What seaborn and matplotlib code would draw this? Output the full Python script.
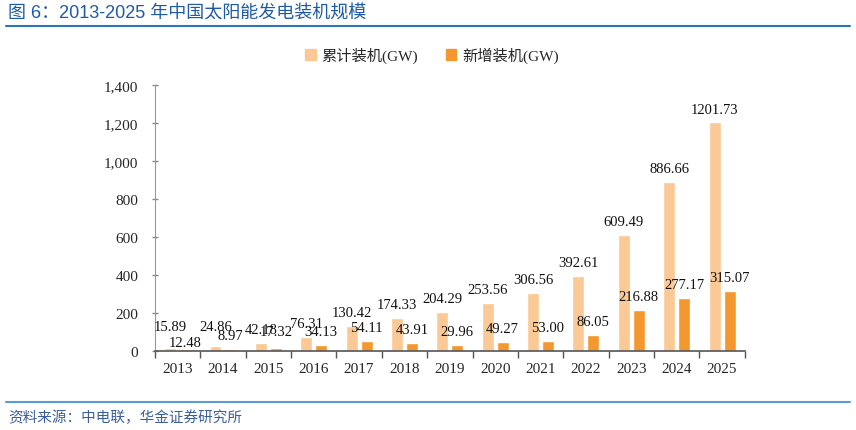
import pandas as pd
import matplotlib.pyplot as plt
import seaborn as sns
from matplotlib.ticker import FuncFormatter

sns.set_style("white")
plt.rcParams["font.family"] = ["Liberation Serif", "Noto Sans CJK SC", "DejaVu Sans"]

years = ["2013", "2014", "2015", "2016", "2017", "2018", "2019",
         "2020", "2021", "2022", "2023", "2024", "2025"]
cumulative = [15.89, 24.86, 42.18, 76.31, 130.42, 174.33, 204.29,
              253.56, 306.56, 392.61, 609.49, 886.66, 1201.73]
added = [12.48, 8.97, 17.32, 34.13, 54.11, 43.91, 29.96,
         49.27, 53.00, 86.05, 216.88, 277.17, 315.07]
series_names = ["累计装机(GW)", "新增装机(GW)"]
colors = ["#FAC995", "#F5972F"]

df = pd.DataFrame({
    "year": years * 2,
    "value": cumulative + added,
    "series": [series_names[0]] * len(years) + [series_names[1]] * len(years),
})

fig = plt.figure(figsize=(8.56, 4.31), dpi=100)
ax = fig.add_axes([0.181, 0.183, 0.689, 0.618])

sns.barplot(data=df, x="year", y="value", hue="series", palette=colors,
            width=0.66, gap=0.2, ax=ax, legend=False, saturation=1)

# label padding in points; the small early bars get nudged apart like the original
pads = [
    [11, 10, 5, 5, 5, 5, 5, 5, 5, 5, 5, 5, 5],
    [0, 5, 7, 5, 5, 5, 5, 5, 5, 5, 5, 5, 5],
]
for cont, pad_row in zip(ax.containers, pads):
    for bar, pad in zip(cont, pad_row):
        h = bar.get_height()
        ax.annotate(f"{h:.2f}", (bar.get_x() + bar.get_width() / 2, h),
                    xytext=(0, pad), textcoords="offset points",
                    ha="center", va="bottom", fontsize=10.5, color="#111111")

ax.set_ylim(0, 1400)
ax.set_yticks(range(0, 1401, 200))
ax.yaxis.set_major_formatter(FuncFormatter(lambda v, p: f"{int(v):,}"))
ax.set_xlim(-0.5, len(years) - 0.5)
ax.set_xlabel("")
ax.set_ylabel("")

# category boundary ticks on the x axis
ax.set_xticks(range(len(years)))
ax.set_xticks([i - 0.5 for i in range(len(years) + 1)], minor=True)
ax.tick_params(axis="x", which="major", length=0, labelsize=11, pad=8)
ax.tick_params(axis="x", which="minor", length=5, width=1, color="#555555", direction="out", bottom=True)
ax.tick_params(axis="y", length=4, width=1, color="#888888", direction="inout", labelsize=11, pad=10, left=True)

for s in ["top", "right"]:
    ax.spines[s].set_visible(False)
ax.spines["left"].set_color("#999999")
ax.spines["bottom"].set_color("#555555")
ax.spines["bottom"].set_linewidth(1.2)

handles = [plt.Rectangle((0, 0), 1, 1, color=c) for c in colors]
fig.legend(handles, series_names, loc="center", bbox_to_anchor=(432 / 856, 1 - 56 / 431),
           ncol=2, frameon=False, fontsize=11, handlelength=0.7, handleheight=0.7,
           handletextpad=0.4, columnspacing=1.8)

# title, rules and source note
fig.text(8 / 856, 1 - 14 / 431, "图 6：2013-2025 年中国太阳能发电装机规模",
         family=["Liberation Sans", "Noto Sans CJK SC"], fontsize=13,
         color="#1F5AA6", va="center", ha="left")
fig.add_artist(plt.Line2D([6 / 856, 850 / 856], [1 - 27 / 431, 1 - 27 / 431],
                          color="#2E75B6", lw=1.5))
fig.add_artist(plt.Line2D([6 / 856, 850 / 856], [1 - 403 / 431, 1 - 403 / 431],
                          color="#5B9BD5", lw=1.5))
fig.text(8 / 856, 1 - 418 / 431, "资料来源：中电联，华金证券研究所",
         family=["Noto Sans CJK SC"], fontsize=10.5, color="#3A5F9A",
         va="center", ha="left")

fig.savefig("out.png", dpi=100)
